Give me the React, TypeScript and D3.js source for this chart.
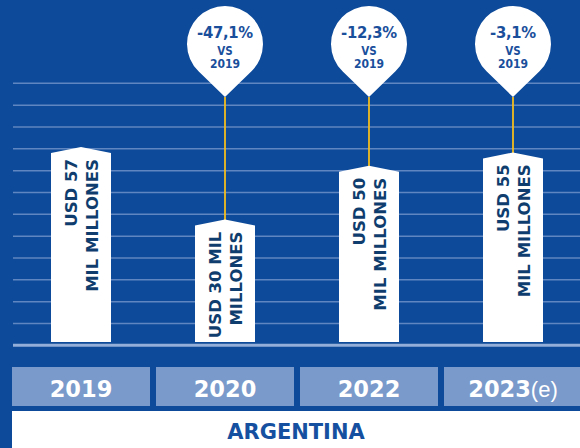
import React, { useEffect } from 'react';
import * as d3 from 'd3';

const years = ['2019', '2020', '2022', '2023'];
const yearSuffix = ['', '', '', '(e)'];
const values = [57, 30, 50, 55];
const labelLine1 = ['USD 57', 'USD 30 MIL', 'USD 50', 'USD 55'];
const labelLine2 = ['MIL MILLONES', 'MILLONES', 'MIL MILLONES', 'MIL MILLONES'];
const changes: (string | null)[] = [null, '-47,1%', '-12,3%', '-3,1%'];
const changeRef = 'VS';
const changeBase = '2019';
const country = 'ARGENTINA';
const gridCount = 12;

const W = 580;
const H = 448;
const BG = '#0d4a99';
const GRID = '#5f86c0';
const BASE = '#93aed8';
const BOX = '#7a9acb';
const TEXT_DARK = '#0f3d6e';
const TEXT_BLUE = '#1a4f9c';
const PIN = '#f2bd1e';
const PIN_FONT = "'DejaVu Sans Condensed', 'DejaVu Sans', sans-serif";

export default function App() {
  useEffect(() => {
    document.body.style.margin = '0';
  }, []);

  const x = d3.scaleBand<string>().domain(years).range([12, 582]).paddingInner(6 / 144).paddingOuter(0);
  const baseY = 342;
  const y = d3.scaleLinear().domain([-15.5, 57]).range([baseY, 147]);
  const grid = d3.scaleLinear().domain([0, gridCount]).range([83.3, 345.3]);
  const gridLines = d3.range(0, gridCount);
  const barW = 60;
  const roof = 6;

  const pinCy = 44;
  const pinR = 38;
  const tipY = 97;
  const d = tipY - pinCy;
  const alpha = Math.acos(pinR / d);
  const tx = pinR * Math.sin(alpha);
  const ty = pinCy + pinR * Math.cos(alpha);

  return (
    <svg width={W} height={H} style={{ display: 'block' }} xmlns="http://www.w3.org/2000/svg">
      <rect x={0} y={0} width={W} height={H} fill={BG} />
      {gridLines.map((k) => (
        <line key={k} x1={13} x2={W} y1={grid(k)} y2={grid(k)} stroke={GRID} strokeWidth={1.5} />
      ))}
      <line x1={13} x2={W} y1={grid(gridCount)} y2={grid(gridCount)} stroke={BASE} strokeWidth={3} />
      {years.map((yr, i) => {
        const xc = (x(yr) as number) + x.bandwidth() / 2;
        const x0 = xc - barW / 2;
        const x1 = xc + barW / 2;
        const yp = y(values[i]);
        const ys = yp + roof;
        const path = `M${x0},${baseY}L${x0},${ys}L${xc},${yp}L${x1},${ys}L${x1},${baseY}Z`;
        const change = changes[i];
        const pinPath = `M${xc},${tipY}L${xc + tx},${ty}A${pinR},${pinR} 0 1 0 ${xc - tx},${ty}Z`;
        return (
          <g key={yr}>
            {change && (
              <g>
                <line x1={xc} x2={xc} y1={tipY} y2={yp + 1} stroke={PIN} strokeWidth={1.8} />
                <path d={pinPath} fill="#ffffff" />
                <text x={xc} y={38} textAnchor="middle" fill={TEXT_BLUE} fontFamily={PIN_FONT} fontWeight={700} fontSize={16.5} letterSpacing={-0.3}>{change}</text>
                <text x={xc} y={55} textAnchor="middle" fill={TEXT_BLUE} fontFamily={PIN_FONT} fontWeight={700} fontSize={11.5}>{changeRef}</text>
                <text x={xc} y={68} textAnchor="middle" fill={TEXT_BLUE} fontFamily={PIN_FONT} fontWeight={700} fontSize={12}>{changeBase}</text>
              </g>
            )}
            <path d={path} fill="#ffffff" />
            <g transform={`translate(${xc - 4.5},${ys + 6}) rotate(-90)`}>
              <text x={0} y={0} textAnchor="end" fill={TEXT_DARK} fontFamily="'DejaVu Sans', sans-serif" fontWeight={700} fontSize={16.5}>{labelLine1[i]}</text>
              <text x={0} y={21} textAnchor="end" fill={TEXT_DARK} fontFamily="'DejaVu Sans', sans-serif" fontWeight={700} fontSize={16.5}>{labelLine2[i]}</text>
            </g>
            <rect x={x(yr)} y={367} width={x.bandwidth()} height={39} fill={BOX} />
            <text x={xc} y={396.5} textAnchor="middle" fill="#ffffff" fontFamily="'DejaVu Sans', sans-serif" fontWeight={700} fontSize={22.5}>
              {yr}
              {yearSuffix[i] && (
                <tspan fontFamily="'Liberation Sans', sans-serif" fontWeight={400} fontSize={22}>{yearSuffix[i]}</tspan>
              )}
            </text>
          </g>
        );
      })}
      <rect x={12} y={411} width={W - 12} height={H - 411} fill="#ffffff" />
      <text x={(12 + W) / 2} y={439} textAnchor="middle" fill="#1550a0" fontFamily="'DejaVu Sans', sans-serif" fontWeight={700} fontSize={21}>{country}</text>
    </svg>
  );
}
